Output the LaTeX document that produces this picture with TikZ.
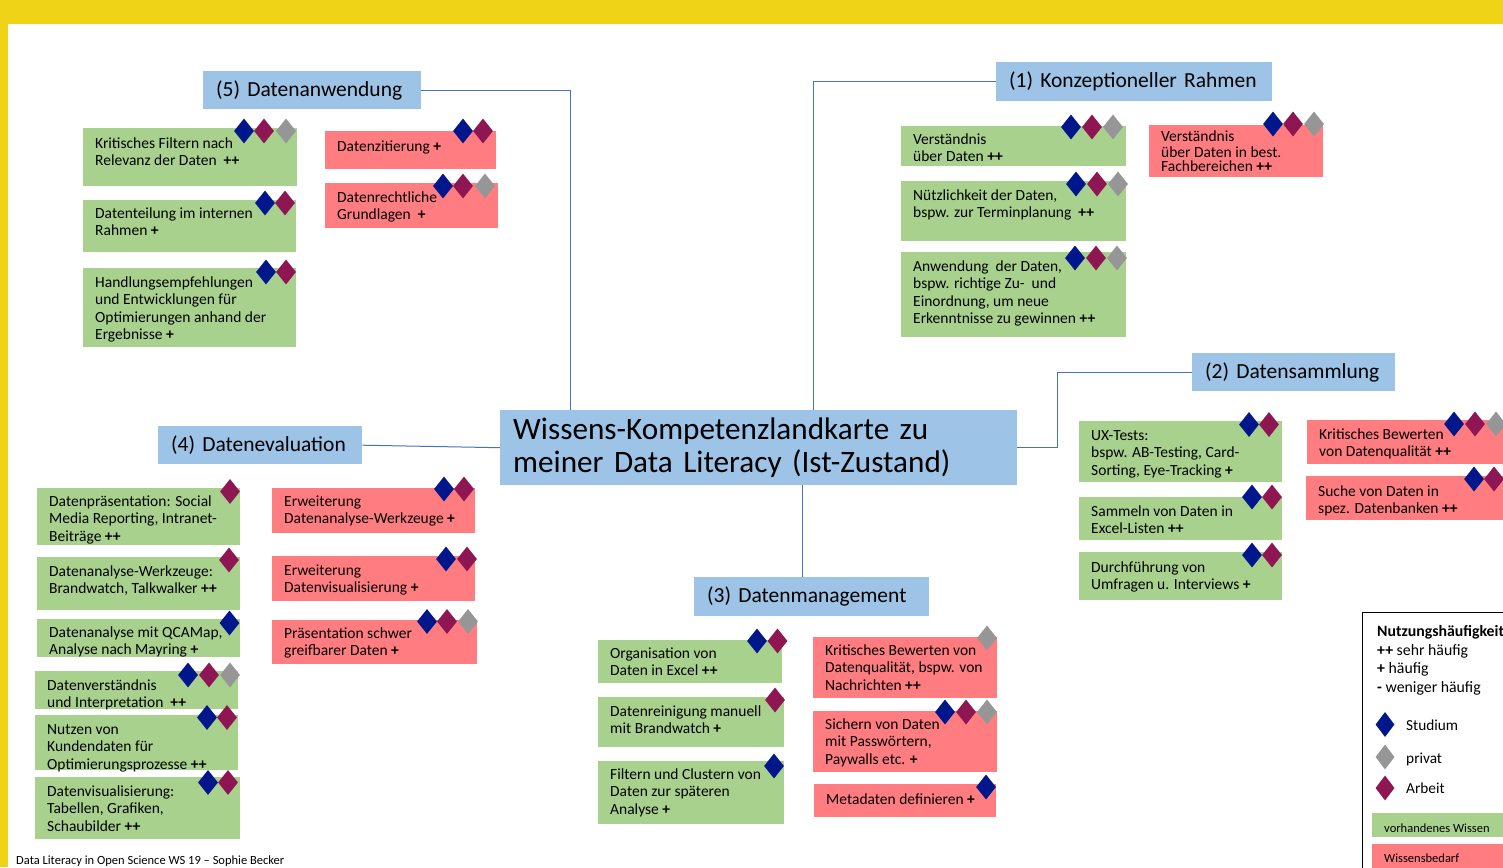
\documentclass[tikz,border=0pt]{standalone}
\usepackage{fontspec}
\setmainfont{Carlito}
\usetikzlibrary{shapes.geometric}

\definecolor{frameyellow}{HTML}{EED316}
\definecolor{headblue}{HTML}{9DC3E6}
\definecolor{havegreen}{HTML}{A9D18E}
\definecolor{needred}{HTML}{FF7C80}
\definecolor{linkblue}{HTML}{4472C4}
\definecolor{dnavy}{HTML}{00178C}
\definecolor{dplum}{HTML}{8E1652}
\definecolor{dgray}{HTML}{969696}

\tikzset{
  cardbox/.style={draw=none, inner sep=0pt, anchor=north west},
  havebox/.style={cardbox, fill=havegreen},
  needbox/.style={cardbox, fill=needred},
  hdr/.style={fill=headblue, inner xsep=13pt, inner ysep=0pt, align=left,
    anchor=north west, font=\fontsize{21.5}{24}\selectfont},
  txt/.style={inner sep=0pt, anchor=north west, align=left,
    font=\fontsize{15.5}{17.6}\selectfont},
  dia/.style={diamond, inner sep=0pt, minimum width=20pt, minimum height=25pt, draw=none},
  conn/.style={draw=linkblue, line width=1pt},
  legtxt/.style={inner sep=0pt, anchor=base west, font=\fontsize{15.8}{18}\selectfont},
  smalltxt/.style={inner sep=0pt, anchor=base west, font=\fontsize{12.5}{14}\selectfont},
}

% card: [text options] name, style, x, y, width, height, first-line centre y, text
\newcommand\infocard[9][]{%
  \node[#3, minimum width=#6pt, minimum height=#7pt] (#2) at (#4,#5) {};
  \node[txt,#1] (#2-t) at (#4+12,#8-7.5) {\strut #9};
}
% row of diamonds: name, centre y, list of x/colour
\newcommand\diarow[3]{%
  \foreach \x/\c [count=\i] in {#3} \node[dia, fill=\c] (#1-d\i) at (\x,#2) {};
}

\begin{document}
\begin{tikzpicture}[x=1pt, y=-1pt]
\useasboundingbox (0,0) rectangle (1503,867);
\fill[white] (0,0) rectangle (1503,867);
% frame
\fill[frameyellow] (0,0) rectangle (1503,24);
\fill[frameyellow] (0,0) rectangle (8,867);

% central topic and section headers
\node[hdr, text width=491pt, minimum height=75pt, font=\fontsize{31.2}{33.5}\selectfont] (ctr) at (500,410)
  {Wissens-Kompetenzlandkarte zu\\meiner Data Literacy (Ist-Zustand)};
\node[hdr, text width=250pt, minimum height=39pt] (h1) at (996,62) {(1) Konzeptioneller Rahmen};
\node[hdr, text width=177pt, minimum height=38pt] (h2) at (1192,353) {(2) Datensammlung};
\node[hdr, text width=209pt, minimum height=39pt] (h3) at (694,577) {(3) Datenmanagement};
\node[hdr, text width=178pt, minimum height=38pt] (h4) at (158,426) {(4) Datenevaluation};
\node[hdr, text width=192pt, minimum height=38pt] (h5) at (203,71) {(5) Datenanwendung};

% connectors
\draw[conn] (h5.east) -| ([xshift=70pt]ctr.north west);
\draw[conn] (h1.west) -| ([xshift=313pt]ctr.north west);
\draw[conn] (h2.west) -| ([xshift=40pt]ctr.east) -- (ctr.east);
\draw[conn] ([xshift=302pt]ctr.south west) -- ([xshift=108pt]h3.north west);
\draw[conn] (h4.east) -- (ctr.west);

% (5) Datenanwendung
\infocard{g1}{havebox}{83}{128}{214}{58}{143}{Kritisches Filtern nach\\Relevanz der Daten\ \ \textbf{++}}
\infocard{g2}{havebox}{83}{200}{213}{52}{213}{Datenteilung im internen\\Rahmen \textbf{+}}
\infocard{g3}{havebox}{83}{268}{213}{79}{282}{Handlungsempfehlungen\\und Entwicklungen für\\Optimierungen anhand der\\Ergebnisse \textbf{+}}
\infocard{r1}{needbox}{325}{131}{171}{38}{146}{Datenzitierung \textbf{+}}
\infocard{r2}{needbox}{325}{183}{173}{45}{197}{Datenrechtliche\\Grundlagen\ \ \textbf{+}}

% (1) Konzeptioneller Rahmen
\infocard{k1}{havebox}{901}{126}{225}{40}{139}{Verständnis\\über Daten \textbf{++}}
\infocard{k2}{havebox}{901}{181}{225}{60}{195}{Nützlichkeit der Daten,\\bspw. zur Terminplanung\ \ \textbf{++}}
\infocard{k3}{havebox}{901}{252}{225}{85}{266}{Anwendung\ \ der Daten,\\bspw. richtige Zu-\ \ und\\Einordnung, um neue\\Erkenntnisse zu gewinnen \textbf{++}}
\infocard[font=\fontsize{15.5}{13.3}\selectfont]{kr}{needbox}{1149}{125}{174}{52}{138.5}{Verständnis\\über Daten in best.\\Fachbereichen \textbf{++}}

% (2) Datensammlung
\infocard{s1}{havebox}{1079}{421}{203}{61}{435}{UX-Tests:\\bspw. AB-Testing, Card-\\Sorting, Eye-Tracking \textbf{+}}
\infocard{s2}{havebox}{1079}{497}{203}{43}{511}{Sammeln von Daten in\\Excel-Listen \textbf{++}}
\infocard{s3}{havebox}{1079}{552}{203}{48}{567}{Durchführung von\\Umfragen u. Interviews \textbf{+}}
\infocard{sr1}{needbox}{1307}{420}{200}{44}{434}{Kritisches Bewerten\\von Datenqualität \textbf{++}}
\infocard{sr2}{needbox}{1306}{476}{200}{44}{491}{Suche von Daten in\\spez. Datenbanken \textbf{++}}

% (4) Datenevaluation
\infocard{e1}{havebox}{37}{488}{203}{57}{501}{Datenpräsentation: Social\\Media Reporting, Intranet-\\Beiträge \textbf{++}}
\infocard{e2}{havebox}{37}{557}{203}{53}{571}{Datenanalyse-Werkzeuge:\\Brandwatch, Talkwalker \textbf{++}}
\infocard{e3}{havebox}{37}{619}{203}{38}{632}{Datenanalyse mit QCAMap,\\Analyse nach Mayring \textbf{+}}
\infocard{e4}{havebox}{35}{671}{203}{38}{685}{Datenverständnis\\und Interpretation\ \ \textbf{++}}
\infocard{e5}{havebox}{35}{715}{203}{55}{729}{Nutzen von\\Kundendaten für\\Optimierungsprozesse \textbf{++}}
\infocard{e6}{havebox}{35}{777}{205}{62}{791}{Datenvisualisierung:\\Tabellen, Grafiken,\\Schaubilder \textbf{++}}
\infocard{er1}{needbox}{272}{488}{203}{45}{501}{Erweiterung\\Datenanalyse-Werkzeuge \textbf{+}}
\infocard{er2}{needbox}{272}{556}{203}{45}{570}{Erweiterung\\Datenvisualisierung \textbf{+}}
\infocard{er3}{needbox}{272}{620}{205}{44}{633}{Präsentation schwer\\greifbarer Daten \textbf{+}}

% (3) Datenmanagement
\infocard{m1}{havebox}{598}{640}{184}{43}{653}{Organisation von\\Daten in Excel \textbf{++}}
\infocard{m2}{havebox}{598}{697}{186}{50}{711}{Datenreinigung manuell\\mit Brandwatch \textbf{+}}
\infocard{m3}{havebox}{598}{761}{186}{63}{774}{Filtern und Clustern von\\Daten zur späteren\\Analyse \textbf{+}}
\infocard{mr1}{needbox}{813}{637}{184}{61}{650}{Kritisches Bewerten von\\Datenqualität, bspw. von\\Nachrichten \textbf{++}}
\infocard{mr2}{needbox}{813}{711}{184}{61}{724}{Sichern von Daten\\mit Passwörtern,\\Paywalls etc. \textbf{+}}
\infocard{mr3}{needbox}{814}{784}{182}{33}{799}{Metadaten definieren \textbf{+}}

% context markers: Studium (navy), Arbeit (plum), privat (gray)
\diarow{g1}{131}{244/dnavy,264/dplum,286/dgray}
\diarow{g2}{203}{265/dnavy,285/dplum}
\diarow{g3}{272}{266/dnavy,286/dplum}
\diarow{r1}{131}{463/dnavy,483/dplum}
\diarow{r2}{186}{443/dnavy,463/dplum,485/dgray}
\diarow{k1}{127}{1071/dnavy,1092/dplum,1113/dgray}
\diarow{k2}{184}{1076/dnavy,1097/dplum,1118/dgray}
\diarow{k3}{258}{1075/dnavy,1096/dplum,1117/dgray}
\diarow{kr}{124}{1273/dnavy,1293/dplum,1314/dgray}
\diarow{s1}{424.5}{1249/dnavy,1269/dplum}
\diarow{s2}{497}{1252/dnavy,1272/dplum}
\diarow{s3}{555}{1252/dnavy,1272/dplum}
\diarow{sr1}{424}{1454/dnavy,1475/dplum,1496/dgray}
\diarow{sr2}{479}{1474/dnavy,1494/dplum}
\diarow{e1}{491.5}{230/dplum}
\diarow{e2}{560}{229/dplum}
\diarow{e3}{623}{229.5/dnavy}
\diarow{e4}{675}{188/dnavy,209/dplum,230/dgray}
\diarow{e5}{717.5}{207/dnavy,227/dplum}
\diarow{e6}{782.5}{208/dnavy,228/dplum}
\diarow{er1}{489}{444/dnavy,464/dplum}
\diarow{er2}{559}{446/dnavy,467/dplum}
\diarow{er3}{621.5}{427/dnavy,447/dplum,468/dgray}
\diarow{m1}{641}{757/dnavy,777.5/dplum}
\diarow{m2}{700}{775/dplum}
\diarow{m3}{766}{774/dnavy}
\diarow{mr1}{638}{987/dgray}
\diarow{mr2}{712}{945/dnavy,966/dplum,987/dgray}
\diarow{mr3}{787}{986/dnavy}

% legend
\node[draw=black, line width=1.3pt, anchor=north west, minimum width=220pt, minimum height=300pt, inner sep=0pt] (legend) at (1362,612) {};
\node[legtxt, font=\bfseries\fontsize{15.8}{18}\selectfont] (lg-title) at (1377,636) {Nutzungshäufigkeit};
\node[legtxt] (lg-pp) at (1377,655) {\textbf{++} sehr häufig};
\node[legtxt] (lg-p) at (1377,673.5) {\textbf{+} häufig};
\node[legtxt] (lg-m) at (1377,692.5) {\textbf{-} weniger häufig};
\node[dia, fill=dnavy, minimum width=19pt] (lg-d1) at (1385,724.5) {};
\node[dia, fill=dgray, minimum width=19pt] (lg-d2) at (1385,757) {};
\node[dia, fill=dplum, minimum width=19pt] (lg-d3) at (1385,788) {};
\node[legtxt, font=\fontsize{15.3}{17}\selectfont] (lg-s) at (1406,730.5) {Studium};
\node[legtxt, font=\fontsize{15.3}{17}\selectfont] (lg-pr) at (1406,763.5) {privat};
\node[legtxt, font=\fontsize{15.3}{17}\selectfont] (lg-a) at (1406,793.5) {Arbeit};
\node[havebox, minimum width=200pt, minimum height=24pt] (lg-g) at (1372,813) {};
\node[smalltxt] (lg-gt) at (1384,832.5) {vorhandenes Wissen};
\node[needbox, minimum width=200pt, minimum height=30pt] (lg-r) at (1372,844) {};
\node[smalltxt] (lg-rt) at (1384,862) {Wissensbedarf};

% footer
\node[smalltxt] (footer) at (16,864.5) {Data Literacy in Open Science WS 19 – Sophie Becker};
\end{tikzpicture}
\end{document}
